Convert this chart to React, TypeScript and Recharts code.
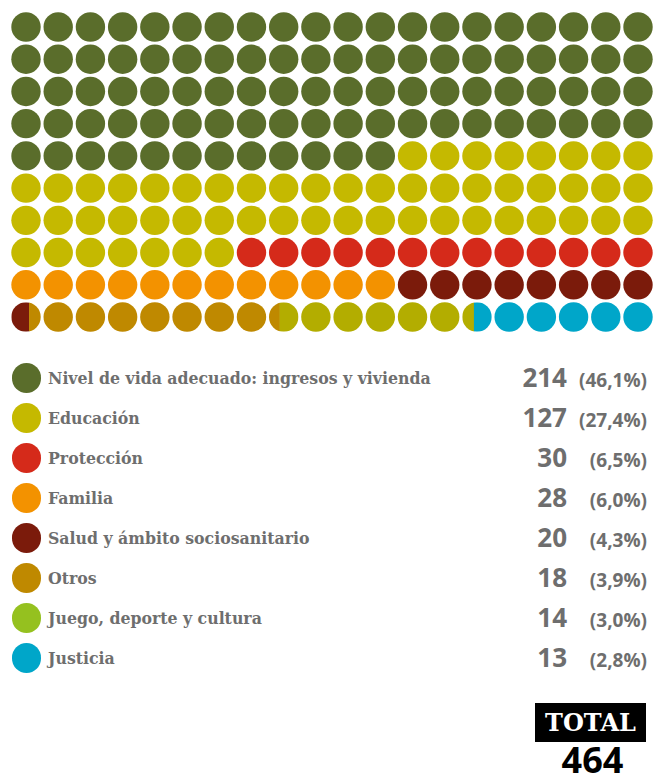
import { ScatterChart, Scatter, XAxis, YAxis } from 'recharts';

const categories = [
  'Nivel de vida adecuado: ingresos y vivienda',
  'Educación',
  'Protección',
  'Familia',
  'Salud y ámbito sociosanitario',
  'Otros',
  'Juego, deporte y cultura',
  'Justicia',
];
const counts = [214, 127, 30, 28, 20, 18, 14, 13];
const percents = ['46,1', '27,4', '6,5', '6,0', '4,3', '3,9', '3,0', '2,8'];
const legendColors = ['#5a6d2b', '#c5b900', '#d52a1a', '#f39200', '#7b1b0b', '#bf8900', '#95c11f', '#00a6c9'];
const waffleColors = ['#5a6d2b', '#c5b900', '#d52a1a', '#f39200', '#7b1b0b', '#bf8900', '#b3ad00', '#00a6c9'];
const total = 464;

const COLS = 20;
const ROWS = 10;
const R = 14.7;
const GRAY = '#6e6e6e';

// each dot = total / 200; tiny remainders are snapped to whole dots like the original
function buildCells() {
  const unit = total / (COLS * ROWS);
  const bounds: number[] = [0];
  let acc = 0;
  counts.forEach((c) => {
    acc += c;
    let b = acc / unit;
    const frac = b - Math.floor(b);
    if (frac < 0.25) b = Math.floor(b);
    else if (frac > 0.9) b = Math.ceil(b);
    bounds.push(b);
  });
  const cells = [];
  for (let i = 0; i < COLS * ROWS; i++) {
    const segments: { color: string; from: number; to: number }[] = [];
    for (let k = 0; k < counts.length; k++) {
      const s = Math.max(bounds[k], i);
      const e = Math.min(bounds[k + 1], i + 1);
      if (e > s) segments.push({ color: waffleColors[k], from: s - i, to: e - i });
    }
    cells.push({ id: i, x: i % COLS, y: Math.floor(i / COLS), segments });
  }
  return cells;
}

const cells = buildCells();

function Dot(props: any) {
  const { cx, cy, payload } = props;
  const segs = payload.segments;
  if (segs.length === 1) return <circle cx={cx} cy={cy} r={R} fill={segs[0].color} />;
  const id = `dot-clip-${payload.id}`;
  return (
    <g>
      <defs>
        <clipPath id={id}>
          <circle cx={cx} cy={cy} r={R} />
        </clipPath>
      </defs>
      <g clipPath={`url(#${id})`}>
        {segs.map((s: any, i: number) => (
          <rect
            key={i}
            x={cx - R + s.from * 2 * R}
            y={cy - R}
            width={(s.to - s.from) * 2 * R + 0.3}
            height={2 * R}
            fill={s.color}
          />
        ))}
      </g>
    </g>
  );
}

export default function App() {
  return (
    <div style={{ position: 'absolute', left: 0, top: 0, width: 654, height: 782, background: '#fff' }}>
      <ScatterChart width={654} height={340} margin={{ top: 27, right: 16, bottom: 23, left: 26 }}>
        <XAxis type="number" dataKey="x" domain={[0, COLS - 1]} hide />
        <YAxis type="number" dataKey="y" domain={[0, ROWS - 1]} reversed hide />
        <Scatter data={cells} shape={<Dot />} isAnimationActive={false} />
      </ScatterChart>

      {categories.map((name, i) => (
        <div
          key={name}
          style={{ position: 'absolute', left: 0, top: 358 + i * 40, width: 654, height: 40 }}
        >
          <div
            style={{
              position: 'absolute',
              left: 11.6,
              top: 5.3,
              width: 29.4,
              height: 29.4,
              borderRadius: '50%',
              background: legendColors[i],
            }}
          />
          <div
            style={{
              position: 'absolute',
              left: 48,
              top: 0,
              lineHeight: '40px',
              fontFamily: '"DejaVu Serif Condensed", "DejaVu Serif"',
              fontStretch: 'condensed',
              fontWeight: 700,
              fontSize: 17.5,
              color: GRAY,
              whiteSpace: 'nowrap',
            }}
          >
            {name}
          </div>
          <div
            style={{
              position: 'absolute',
              right: 654 - 567,
              top: -1,
              lineHeight: '40px',
              fontFamily: '"Open Sans"',
              fontWeight: 700,
              fontSize: 26,
              color: GRAY,
            }}
          >
            {counts[i]}
          </div>
          <div
            style={{
              position: 'absolute',
              right: 654 - 647,
              top: 2,
              lineHeight: '40px',
              fontFamily: '"Open Sans"',
              fontWeight: 700,
              fontSize: 19,
              color: GRAY,
            }}
          >
            ({percents[i]}%)
          </div>
        </div>
      ))}

      <div
        style={{
          position: 'absolute',
          left: 535,
          top: 703,
          width: 111,
          height: 39,
          background: '#000',
          color: '#fff',
          fontFamily: '"DejaVu Serif"',
          fontWeight: 700,
          fontSize: 24,
          lineHeight: '39px',
          textAlign: 'center',
        }}
      >
        TOTAL
      </div>
      <svg
        width={115}
        height={40}
        style={{ position: 'absolute', left: 535, top: 742, overflow: 'visible' }}
      >
        <text
          x={57.5}
          y={31}
          textAnchor="middle"
          fontFamily='"Open Sans"'
          fontWeight={700}
          fontSize={36}
          fill="#000"
        >
          {total}
        </text>
      </svg>
    </div>
  );
}
